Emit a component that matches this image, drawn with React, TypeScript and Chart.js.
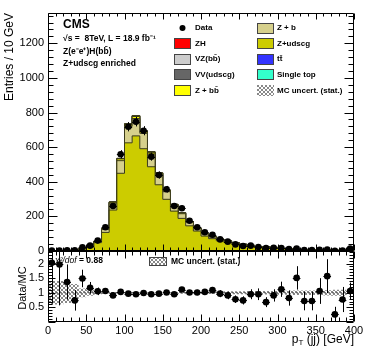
import React, { useEffect, useRef } from "react";
import { Chart, registerables } from "chart.js";
Chart.register(...registerables);

// ---------------- data ----------------
const binLow = [0,10,20,30,40,50,60,70,80,90,100,110,120,130,140,150,160,170,180,190,200,210,220,230,240,250,260,270,280,290,300,310,320,330,340,350,360,370,380,390];
const binWidth = 10;
const xMin = 0;
const xMax = 400;

const dataCounts = [2,2,4,4,21,31,60,137,260,559,718,747,695,545,439,357,260,247,175,137,108,94,67,54,38,29,31,23,17,19,17,11,14,6,6,7,8,1,3,14];
const dataErr = [1.4,1.4,2,2,4.6,5.6,7.7,11.7,16.1,23.6,26.8,27.3,26.4,23.3,21,18.9,16.1,15.7,13.2,11.7,10.4,9.7,8.2,7.3,6.2,5.4,5.6,4.8,4.1,4.4,4.1,3.3,3.7,2.4,2.4,2.6,2.8,1,1.7,3.7];

const zUdscg = [0.8,0.8,3,4.5,12,22,48,107,236,448,624,664,590,486,382,298,230,188,145,115,86,71,59,50,42,33,28,20,21,18,13,11,7.6,6.8,6.8,6,4.2,3.4,3.4,11];
const zB = [0.1,0.1,0.4,0.6,1.5,3,7,18,40,73,95,100,89,74,58,44,33,27,21,16,13,10,8,7,5.5,5,4,3,3,2.5,1.5,1.5,1,0.9,0.9,0.7,0.6,0.5,0.5,1.5];
const zBB = [0.05,0.05,0.1,0.2,0.3,0.6,1.2,2.6,5,10,11,12,11,9,8,5.5,4.5,4,3,2.4,1.8,1.5,1.2,1,0.9,0.6,0.5,0.5,0.5,0.3,0.3,0.3,0.2,0.2,0.2,0.15,0.1,0.1,0.1,0.3];
const vvUdscg = [0,0,0,0.05,0.1,0.2,0.4,0.7,1.4,2.5,3.2,3.5,3.1,2.6,2.1,1.6,1.3,1.1,0.9,0.7,0.5,0.4,0.35,0.3,0.25,0.2,0.2,0.15,0.15,0.1,0.1,0.1,0.05,0.05,0.05,0.05,0.05,0.05,0.05,0.1];
const vzBB = [0,0,0,0,0.02,0.05,0.1,0.2,0.4,0.7,0.9,1,0.9,0.8,0.6,0.5,0.4,0.3,0.25,0.2,0.15,0.12,0.1,0.08,0.06,0.05,0.05,0.04,0.04,0.03,0.03,0.02,0.02,0.02,0.02,0.01,0.01,0.01,0.01,0.03];
const zh = [0,0,0,0,0,0.01,0.02,0.04,0.08,0.12,0.15,0.17,0.16,0.14,0.12,0.1,0.09,0.08,0.07,0.06,0.05,0.04,0.04,0.03,0.03,0.02,0.02,0.02,0.01,0.01,0.01,0.01,0.01,0.01,0,0,0,0,0,0.01];
const ttbar = [0,0,0,0.02,0.05,0.1,0.2,0.4,0.6,0.8,0.9,0.9,0.8,0.7,0.6,0.5,0.4,0.35,0.3,0.25,0.2,0.15,0.12,0.1,0.08,0.06,0.05,0.04,0.03,0.03,0.02,0.02,0.02,0.01,0.01,0.01,0.01,0.01,0.01,0.02];
const singleTop = [0,0,0,0,0.01,0.02,0.04,0.06,0.1,0.12,0.13,0.13,0.12,0.1,0.08,0.07,0.06,0.05,0.04,0.03,0.03,0.02,0.02,0.02,0.01,0.01,0.01,0.01,0.01,0.01,0,0,0,0,0,0,0,0,0,0];

const ratioVals = [2.03,1.97,1.37,0.74,1.49,1.17,1.05,1.06,0.91,1.03,0.97,0.95,0.99,0.95,0.97,1.01,0.95,1.11,1.01,1.01,1.03,1.09,0.97,0.91,0.78,0.74,0.95,0.95,0.68,0.91,1.12,0.82,1.51,0.72,0.72,1.06,1.57,0.26,0.77,1.06];
const ratioErr = [1.4,1.4,0.6,0.35,0.3,0.2,0.13,0.09,0.06,0.04,0.04,0.04,0.04,0.04,0.05,0.05,0.06,0.07,0.08,0.09,0.1,0.11,0.12,0.13,0.13,0.14,0.17,0.2,0.17,0.21,0.26,0.26,0.4,0.32,0.32,0.44,0.58,0.26,0.43,0.29];
const mcUnc = [0.4,0.4,0.35,0.3,0.15,0.1,0.06,0.04,0.03,0.02,0.02,0.02,0.02,0.02,0.02,0.02,0.03,0.03,0.03,0.03,0.04,0.04,0.04,0.05,0.05,0.05,0.06,0.06,0.06,0.06,0.07,0.07,0.08,0.08,0.08,0.08,0.09,0.1,0.1,0.06];

const mainYTicks = [0,200,400,600,800,1000,1200];
const ratioYTicks = [0.5,1,1.5,2];
const xTicks = [0,50,100,150,200,250,300,350,400];

const mainYMax = 1375;
const ratioYMax = 2.43;

// ---------------- style ----------------
const FONT = '"Liberation Sans", Arial, Helvetica, sans-serif';
const W = 374, H = 359;
const COL = {
  zh: "#ff0000",
  vzbb: "#cccccc",
  vv: "#666666",
  zbb: "#ffff00",
  zb: "#d6d08c",
  zudscg: "#cccc00",
  tt: "#3333ff",
  st: "#33ffcc",
};

function stepPts(vals: number[]) {
  const pts = binLow.map((x, i) => ({ x, y: vals[i] }));
  pts.push({ x: xMax, y: vals[vals.length - 1] });
  return pts;
}
function centerPts(vals: number[]) {
  return binLow.map((x, i) => ({ x: x + binWidth / 2, y: vals[i] }));
}
const plainLabel = (v: any) => String(v);

function makeHatch(ctx: CanvasRenderingContext2D) {
  const c = document.createElement("canvas");
  c.width = 4; c.height = 4;
  const g = c.getContext("2d")!;
  g.strokeStyle = "#555";
  g.lineWidth = 0.7;
  g.beginPath();
  g.moveTo(0, 4); g.lineTo(4, 0);
  g.moveTo(0, 0); g.lineTo(4, 4);
  g.stroke();
  return ctx.createPattern(c, "repeat")!;
}

type FrameCfg = {
  xMinor: number; xMajorEvery: number; xMajLen: number; xMinLen: number;
  yMinor: number; yMajorEvery: number; yMajLen: number; yMinLen: number;
};
function framePlugin(cfg: FrameCfg) {
  return {
    id: "rootFrame",
    afterDatasetsDraw(chart: any) {
      const { ctx, chartArea: a, scales } = chart;
      const xs = scales.x, ys = scales.y;
      ctx.save();
      ctx.strokeStyle = "#000";
      ctx.lineWidth = 1;
      const L = Math.round(a.left) + 0.5, R = Math.round(a.right) - 0.5;
      const T = Math.round(a.top) + 0.5, B = Math.round(a.bottom) - 0.5;
      ctx.beginPath();
      ctx.rect(L, T, R - L, B - T);
      ctx.stroke();
      ctx.beginPath();
      const nx = Math.round((xs.max - xs.min) / cfg.xMinor);
      for (let i = 0; i <= nx; i++) {
        const v = xs.min + i * cfg.xMinor;
        const p = Math.round(xs.getPixelForValue(v)) + 0.5;
        const len = i % cfg.xMajorEvery === 0 ? cfg.xMajLen : cfg.xMinLen;
        ctx.moveTo(p, B); ctx.lineTo(p, B - len);
        ctx.moveTo(p, T); ctx.lineTo(p, T + len);
      }
      const ny = Math.floor((ys.max - ys.min) / cfg.yMinor + 1e-6);
      for (let i = 0; i <= ny; i++) {
        const v = ys.min + i * cfg.yMinor;
        const p = Math.round(ys.getPixelForValue(v)) + 0.5;
        const len = i % cfg.yMajorEvery === 0 ? cfg.yMajLen : cfg.yMinLen;
        ctx.moveTo(L, p); ctx.lineTo(L + len, p);
        ctx.moveTo(R, p); ctx.lineTo(R - len, p);
      }
      ctx.stroke();
      ctx.restore();
    },
  };
}

function errorBarPlugin(dsIndex: number, errs: number[]) {
  return {
    id: "errBars",
    afterDatasetsDraw(chart: any) {
      const { ctx, chartArea: a, scales } = chart;
      const xs = scales.x, ys = scales.y;
      const pts = chart.data.datasets[dsIndex].data as { x: number; y: number }[];
      ctx.save();
      ctx.beginPath();
      ctx.rect(a.left, a.top, a.right - a.left, a.bottom - a.top);
      ctx.clip();
      ctx.strokeStyle = "#000";
      ctx.lineWidth = 1;
      ctx.beginPath();
      pts.forEach((p, i) => {
        const cx = Math.round(xs.getPixelForValue(p.x)) + 0.5;
        const cy = Math.round(ys.getPixelForValue(p.y)) + 0.5;
        ctx.moveTo(xs.getPixelForValue(p.x - binWidth / 2), cy);
        ctx.lineTo(xs.getPixelForValue(p.x + binWidth / 2), cy);
        ctx.moveTo(cx, ys.getPixelForValue(p.y - errs[i]));
        ctx.lineTo(cx, ys.getPixelForValue(p.y + errs[i]));
      });
      ctx.stroke();
      ctx.restore();
    },
  };
}

function drawBox(ctx: CanvasRenderingContext2D, x: number, y: number, w: number, h: number, fill: any) {
  ctx.fillStyle = fill;
  ctx.fillRect(x, y, w, h);
  ctx.strokeStyle = "#444";
  ctx.lineWidth = 1;
  ctx.strokeRect(x + 0.5, y + 0.5, w - 1, h - 1);
}

const mainTextPlugin = {
  id: "mainText",
  afterDraw(chart: any) {
    const ctx: CanvasRenderingContext2D = chart.ctx;
    ctx.save();
    ctx.fillStyle = "#000";
    ctx.textBaseline = "middle";
    ctx.textAlign = "left";
    ctx.font = `bold 12px ${FONT}`;
    ctx.fillText("CMS", 63, 25);
    ctx.font = `bold 8.5px ${FONT}`;
    ctx.fillText("√s =  8TeV, L = 18.9 fb⁻¹", 63, 39);
    ctx.fillText("Z(e⁻e⁺)H(bb̄)", 63, 52);
    ctx.fillText("Z+udscg enriched", 63, 64);

    // y title
    ctx.save();
    ctx.translate(10, 13);
    ctx.rotate(-Math.PI / 2);
    ctx.textAlign = "right";
    ctx.font = `12px ${FONT}`;
    ctx.fillText("Entries / 10 GeV", 0, 0);
    ctx.restore();

    // legend
    const hatch = makeHatch(ctx);
    const rowY = (i: number) => 28 + i * 15.6;
    const bw = 17, bh = 11;
    const c1 = 174, c2 = 257;
    ctx.font = `bold 8px ${FONT}`;
    ctx.beginPath();
    ctx.arc(c1 + 8.5, rowY(0), 3, 0, Math.PI * 2);
    ctx.fillStyle = "#000";
    ctx.fill();
    const col1: [string, string][] = [["ZH", COL.zh], ["VZ(bb̄)", COL.vzbb], ["VV(udscg)", COL.vv], ["Z + bb̄", COL.zbb]];
    const col2: [string, any][] = [["Z + b", COL.zb], ["Z+udscg", COL.zudscg], ["tt̄", COL.tt], ["Single top", COL.st]];
    col1.forEach(([t, c], i) => drawBox(ctx, c1, Math.round(rowY(i + 1) - bh / 2), bw, bh, c));
    col2.forEach(([t, c], i) => drawBox(ctx, c2, Math.round(rowY(i) - bh / 2), bw, bh, c));
    ctx.fillStyle = hatch;
    ctx.fillRect(c2, Math.round(rowY(4) - bh / 2), bw, bh);
    ctx.fillStyle = "#000";
    ctx.fillText("Data", c1 + 21, rowY(0));
    col1.forEach(([t], i) => ctx.fillText(t, c1 + 21, rowY(i + 1)));
    col2.forEach(([t], i) => ctx.fillText(t, c2 + 20, rowY(i)));
    ctx.fillText("MC uncert. (stat.)", c2 + 20, rowY(4));
    ctx.restore();
  },
};

const ratioTextPlugin = {
  id: "ratioText",
  afterDraw(chart: any) {
    const ctx: CanvasRenderingContext2D = chart.ctx;
    ctx.save();
    ctx.fillStyle = "#000";
    ctx.textBaseline = "middle";
    ctx.textAlign = "left";
    ctx.font = `italic 8.5px ${FONT}`;
    ctx.fillText("χ²/dof", 55, 261);
    const w = ctx.measureText("χ²/dof").width;
    ctx.font = `bold 8.5px ${FONT}`;
    ctx.fillText(" = 0.88", 55 + w, 261);
    const hatch = makeHatch(ctx);
    ctx.fillStyle = hatch;
    ctx.fillRect(149, 257, 18, 9);
    ctx.strokeStyle = "#444";
    ctx.strokeRect(149.5, 257.5, 17, 8);
    ctx.fillStyle = "#000";
    ctx.font = `bold 8.5px ${FONT}`;
    ctx.fillText("MC uncert. (stat.)", 171, 261.5);

    ctx.save();
    ctx.translate(23, 288);
    ctx.rotate(-Math.PI / 2);
    ctx.textAlign = "center";
    ctx.font = `11px ${FONT}`;
    ctx.fillText("Data/MC", 0, 0);
    ctx.restore();

    const right = chart.chartArea.right;
    const parts: [string, string, number][] = [
      ["p", `12px ${FONT}`, 0],
      ["T", `8px ${FONT}`, 3],
      [" (jj) [GeV]", `12px ${FONT}`, 0],
    ];
    let total = 0;
    parts.forEach(([t, f]) => { ctx.font = f; total += ctx.measureText(t).width; });
    let x = right - total;
    const y = 340;
    parts.forEach(([t, f, dy]) => {
      ctx.font = f;
      ctx.fillText(t, x, y + dy);
      x += ctx.measureText(t).width;
    });
    ctx.restore();
  },
};

export default function App() {
  const mainRef = useRef<HTMLCanvasElement | null>(null);
  const ratioRef = useRef<HTMLCanvasElement | null>(null);

  useEffect(() => {
    const mctx = mainRef.current!.getContext("2d")!;
    const rctx = ratioRef.current!.getContext("2d")!;

    const stackDefs: [string, number[], string][] = [
      ["Single top", singleTop, COL.st],
      ["tt̄", ttbar, COL.tt],
      ["Z+udscg", zUdscg, COL.zudscg],
      ["Z + b", zB, COL.zb],
      ["Z + bb̄", zBB, COL.zbb],
      ["VV(udscg)", vvUdscg, COL.vv],
      ["VZ(bb̄)", vzBB, COL.vzbb],
      ["ZH", zh, COL.zh],
    ];
    const stackDatasets = stackDefs.map(([label, vals, color], i) => ({
      type: "line" as const,
      label,
      data: stepPts(vals),
      stepped: true,
      stack: "mc",
      order: 1,
      fill: i === 0 ? "origin" : "-1",
      backgroundColor: color,
      borderColor: "#3a3a1a",
      borderWidth: 1,
      pointRadius: 0,
    }));

    const main = new Chart(mctx, {
      type: "line",
      data: {
        datasets: [
          ...stackDatasets,
          {
            type: "line",
            label: "Data",
            data: centerPts(dataCounts),
            stack: "data",
            order: 0,
            showLine: false,
            pointRadius: 3.3,
            pointBackgroundColor: "#000",
            pointBorderColor: "#000",
            pointBorderWidth: 0,
            fill: false,
          } as any,
        ],
      },
      options: {
        responsive: false,
        animation: false,
        layout: { padding: { left: 0, right: 20, top: 13, bottom: 108 } },
        plugins: { legend: { display: false }, tooltip: { enabled: false } },
        scales: {
          x: { type: "linear", min: xMin, max: xMax, display: false },
          y: {
            type: "linear",
            min: 0,
            max: mainYMax,
            stacked: true,
            grid: { display: false, drawTicks: false },
            border: { display: false },
            afterBuildTicks: (s: any) => { s.ticks = mainYTicks.map((v) => ({ value: v })); },
            afterFit: (s: any) => { s.width = 48; },
            ticks: { font: { family: FONT, size: 11 }, color: "#000", padding: 4, callback: plainLabel },
          },
        },
      },
      plugins: [
        framePlugin({ xMinor: 10, xMajorEvery: 5, xMajLen: 6, xMinLen: 3, yMinor: 40, yMajorEvery: 5, yMajLen: 9, yMinLen: 5 }),
        errorBarPlugin(stackDefs.length, dataErr),
        mainTextPlugin,
      ],
    } as any);

    const hatch = makeHatch(rctx);
    const ratio = new Chart(rctx, {
      type: "line",
      data: {
        datasets: [
          {
            label: "lo",
            data: stepPts(mcUnc.map((u) => 1 - u)),
            stepped: true,
            borderWidth: 0,
            pointRadius: 0,
            fill: false,
            order: 2,
          },
          {
            label: "hi",
            data: stepPts(mcUnc.map((u) => 1 + u)),
            stepped: true,
            borderWidth: 0,
            pointRadius: 0,
            fill: "-1",
            backgroundColor: hatch,
            order: 2,
          },
          {
            label: "unity",
            data: [{ x: xMin, y: 1 }, { x: xMax, y: 1 }],
            borderColor: "#555",
            borderWidth: 1,
            borderDash: [2, 2],
            pointRadius: 0,
            fill: false,
            order: 1,
          },
          {
            label: "ratio",
            data: centerPts(ratioVals),
            showLine: false,
            pointRadius: 3.3,
            pointBackgroundColor: "#000",
            pointBorderWidth: 0,
            fill: false,
            order: 0,
          },
        ],
      },
      options: {
        responsive: false,
        animation: false,
        layout: { padding: { left: 0, right: 20, top: 251, bottom: 0 } },
        plugins: { legend: { display: false }, tooltip: { enabled: false } },
        scales: {
          x: {
            type: "linear",
            min: xMin,
            max: xMax,
            grid: { display: false, drawTicks: false },
            border: { display: false },
            afterBuildTicks: (s: any) => { s.ticks = xTicks.map((v) => ({ value: v })); },
            afterFit: (s: any) => { s.height = 37; },
            ticks: { font: { family: FONT, size: 11 }, color: "#000", padding: 2, autoSkip: false, maxRotation: 0, callback: plainLabel },
          },
          y: {
            type: "linear",
            min: 0,
            max: ratioYMax,
            grid: { display: false, drawTicks: false },
            border: { display: false },
            afterBuildTicks: (s: any) => { s.ticks = ratioYTicks.map((v) => ({ value: v })); },
            afterFit: (s: any) => { s.width = 48; },
            ticks: { font: { family: FONT, size: 11 }, color: "#000", padding: 4, callback: plainLabel },
          },
        },
      },
      plugins: [
        framePlugin({ xMinor: 10, xMajorEvery: 5, xMajLen: 7, xMinLen: 4, yMinor: 0.1, yMajorEvery: 5, yMajLen: 7, yMinLen: 4 }),
        errorBarPlugin(3, ratioErr),
        ratioTextPlugin,
      ],
    } as any);

    return () => {
      main.destroy();
      ratio.destroy();
    };
  }, []);

  const cs: React.CSSProperties = { position: "absolute", left: 0, top: 0, width: W, height: H };
  return (
    <div style={{ position: "absolute", left: 0, top: 0, width: W, height: H, background: "#fff" }}>
      <canvas ref={mainRef} width={W} height={H} style={cs} />
      <canvas ref={ratioRef} width={W} height={H} style={cs} />
    </div>
  );
}
